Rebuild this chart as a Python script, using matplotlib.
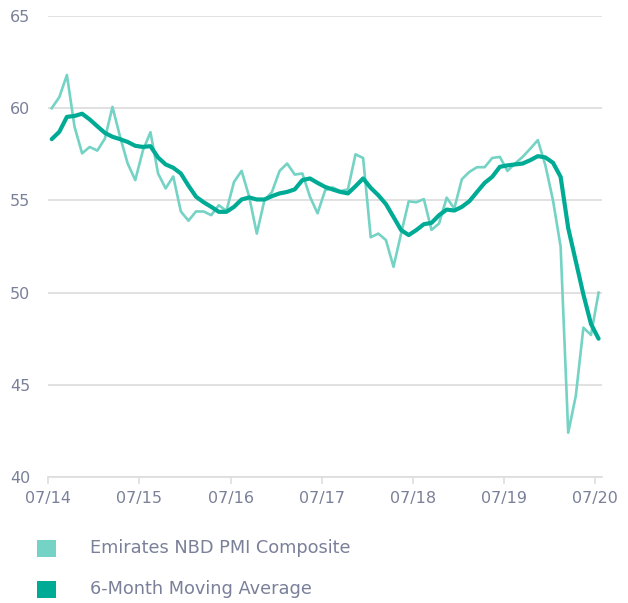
import matplotlib
matplotlib.use("Agg")
import matplotlib.pyplot as plt
from matplotlib.patches import Rectangle
import numpy as np

# Monthly data Jul 2014 .. Jul 2020
pmi = [60.0, 60.6, 61.8, 59.0, 57.55, 57.9,
       57.7, 58.35, 60.07, 58.45, 57.0, 56.1, 57.7, 58.7, 56.46, 55.65, 56.3, 54.4,
       53.9, 54.4, 54.4, 54.2, 54.74, 54.43, 56.0, 56.6, 55.2, 53.2, 55.0, 55.46,
       56.6, 57.0, 56.4, 56.46, 55.2, 54.3, 55.55, 55.7, 55.5, 55.6, 57.5, 57.3,
       53.0, 53.2, 52.85, 51.4, 53.2, 54.95, 54.9, 55.07, 53.4, 53.75, 55.15, 54.56,
       56.15, 56.55, 56.8, 56.8, 57.3, 57.36, 56.6, 57.0, 57.36, 57.8, 58.27, 56.9,
       55.0, 52.5, 42.4, 44.4, 48.1, 47.7, 50.0]
ma6 = [58.32, 58.72, 59.53, 59.58, 59.7, 59.39,
       59.02, 58.66, 58.45, 58.32, 58.17, 57.96, 57.9, 57.94, 57.33, 56.95, 56.77, 56.46,
       55.8, 55.2, 54.9, 54.65, 54.38, 54.38, 54.65, 55.05, 55.16, 55.05, 55.05, 55.23,
       55.38, 55.46, 55.6, 56.1, 56.19, 55.95, 55.73, 55.59, 55.46, 55.38, 55.77, 56.19,
       55.68, 55.28, 54.8, 54.1, 53.39, 53.12, 53.39, 53.71, 53.78, 54.2, 54.5, 54.45,
       54.65, 54.96, 55.46, 55.95, 56.28, 56.82, 56.9, 56.95, 57.0, 57.18, 57.4, 57.33,
       57.04, 56.28, 53.5, 51.7, 49.9, 48.3, 47.5]
tick_labels = ["07/14", "07/15", "07/16", "07/17", "07/18", "07/19", "07/20"]
series_names = ["Emirates NBD PMI Composite", "6-Month Moving Average"]

LIGHT = "#74D3C4"
DARK = "#00AB95"
TXT = "#7A8099"
GRID = "#DEDEDE"

plt.rcParams['font.family'] = ['DejaVu Sans']

fig = plt.figure(figsize=(6.28, 6.03), dpi=100)
ax = fig.add_axes([48.3/628, 1-477/603, (602-48.3)/628, (477-16)/603])

x = np.arange(len(pmi)) + 0.45
ax.plot(x, pmi, color=LIGHT, lw=1.9, solid_joinstyle='round', zorder=3)
ax.plot(x, ma6, color=DARK, lw=3.0, solid_joinstyle='round', solid_capstyle='round', zorder=4)

ax.set_xlim(0, 72.9)
ax.set_ylim(40, 65)
ax.set_yticks([40, 45, 50, 55, 60, 65])
ax.set_xticks(np.arange(0, 73, 12))
ax.set_xticklabels(tick_labels)
ax.grid(axis='y', color=GRID, lw=1.3)
ax.set_axisbelow(True)
for s in ['top', 'right', 'left']:
    ax.spines[s].set_visible(False)
ax.spines['bottom'].set_color(GRID)
ax.spines['bottom'].set_linewidth(1.3)
ax.tick_params(axis='y', length=0, pad=13, labelsize=11.5, labelcolor=TXT)
ax.tick_params(axis='x', length=5, width=1.2, color=GRID, pad=5, labelsize=11.5, labelcolor=TXT)

# legend
for i, (name, col) in enumerate(zip(series_names, [LIGHT, DARK])):
    yc = 548 + i * 41
    fig.add_artist(Rectangle((37/628, 1-(yc+8.5)/603), 19/628, 17/603,
                             transform=fig.transFigure, color=col, lw=0))
    fig.text(90/628, 1-yc/603, name, ha='left', va='center', fontsize=12.8, color=TXT)

fig.savefig("out.png", dpi=100)
